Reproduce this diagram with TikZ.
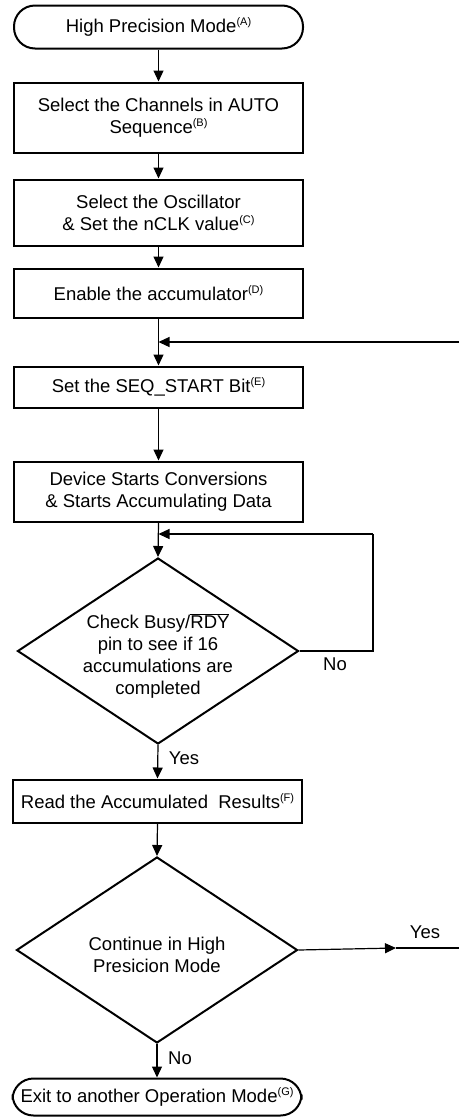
\documentclass[tikz,border=0pt]{standalone}
\usepackage{fontspec}
\setmainfont{Liberation Sans}
\usetikzlibrary{shapes.geometric,arrows.meta}
\newcommand\supnote[1]{\raisebox{6.5pt}{\fontsize{11}{11}\selectfont(#1)}}
\begin{document}
\begin{tikzpicture}[x=1pt,y=-1pt,
  every node/.style={font=\fontsize{18.5}{22}\selectfont, align=center, inner sep=0pt},
  termbox/.style={draw, line width=2pt, rounded corners=21pt, minimum width=289pt},
  stepbox/.style={draw, line width=2pt, minimum width=289pt},
  decbox/.style={draw, diamond, line width=2pt, minimum width=281pt, minimum height=186pt},
  conn/.style={line width=1.2pt},
  arr/.style={conn, -{Triangle[width=10pt,length=11pt]}},
  lbl/.style={font=\fontsize{18.5}{22}\selectfont, align=center}
]
\useasboundingbox (0,0) rectangle (459,1117);

\node[termbox, minimum height=43pt] (start) at (158.5,27) {High Precision Mode\supnote{A}};
\node[stepbox, minimum height=70pt] (b) at (158.5,117.5) {Select the Channels in AUTO\\Sequence\supnote{B}};
\node[stepbox, minimum height=66pt] (c) at (158.5,212.5) {Select the Oscillator\\\& Set the nCLK value\supnote{C}};
\node[stepbox, minimum height=49pt] (d) at (158.5,293) {Enable the accumulator\supnote{D}};
\node[stepbox, minimum height=41pt] (e) at (158.5,387) {Set the SEQ\_START Bit\supnote{E}};
\node[stepbox, minimum height=60pt] (f) at (158.5,491.5) {Device Starts Conversions\\\& Starts Accumulating Data};
\node[decbox, label={[lbl, yshift=-5pt]center:Check Busy/$\overline{\mbox{RDY}}$\\pin to see if 16\\accumulations are\\completed}] (q1) at (158,651) {};
\node[stepbox, minimum height=43pt] (g) at (157.5,801) {Read the Accumulated\ \ Results\supnote{F}};
\node[decbox, label={[lbl, yshift=-5pt]center:Continue in High\\Presicion Mode}] (q2) at (157,950) {};
\node[termbox, minimum height=37pt] (stop) at (157,1097) {Exit to another Operation Mode\supnote{G}};

% main flow
\draw[arr] (start.south) -- (b.north);
\draw[arr] (b.south) -- (c.north);
\draw[arr] (c.south) -- (d.north);
\draw[arr] (d.south) -- (e.north);
\draw[arr] (e.south) -- (f.north);
\draw[arr] (f.south) -- (q1.north);
\draw[arr] (q1.south) -- (g.north);
\draw[arr] (g.south) -- (q2.north);
\draw[arr] (q2.south) -- (stop.north);
\node[lbl] (yes1) at (184,758) {Yes};
\node[lbl] (no2) at (180,1058) {No};

% loop back from decision 1
\coordinate (j1) at (158.5,534);
\coordinate (r1) at (373,534);
\draw[conn] (q1.east) -| (r1);
\draw[arr] (r1) -- (j1);
\node[lbl] (nolbl) at (335,664) {No};

% return entry at top right
\coordinate (j2) at (158.5,342);
\coordinate (in2) at (459,342);
\draw[arr] (in2) -- (j2);

% yes exit from decision 2
\coordinate (m2) at (396,948);
\coordinate (out2) at (459,948);
\draw[arr] (q2.east) -- (m2);
\draw[conn] (m2) -- (out2);
\node[lbl] (yeslbl) at (425,932) {Yes};
\end{tikzpicture}
\end{document}
